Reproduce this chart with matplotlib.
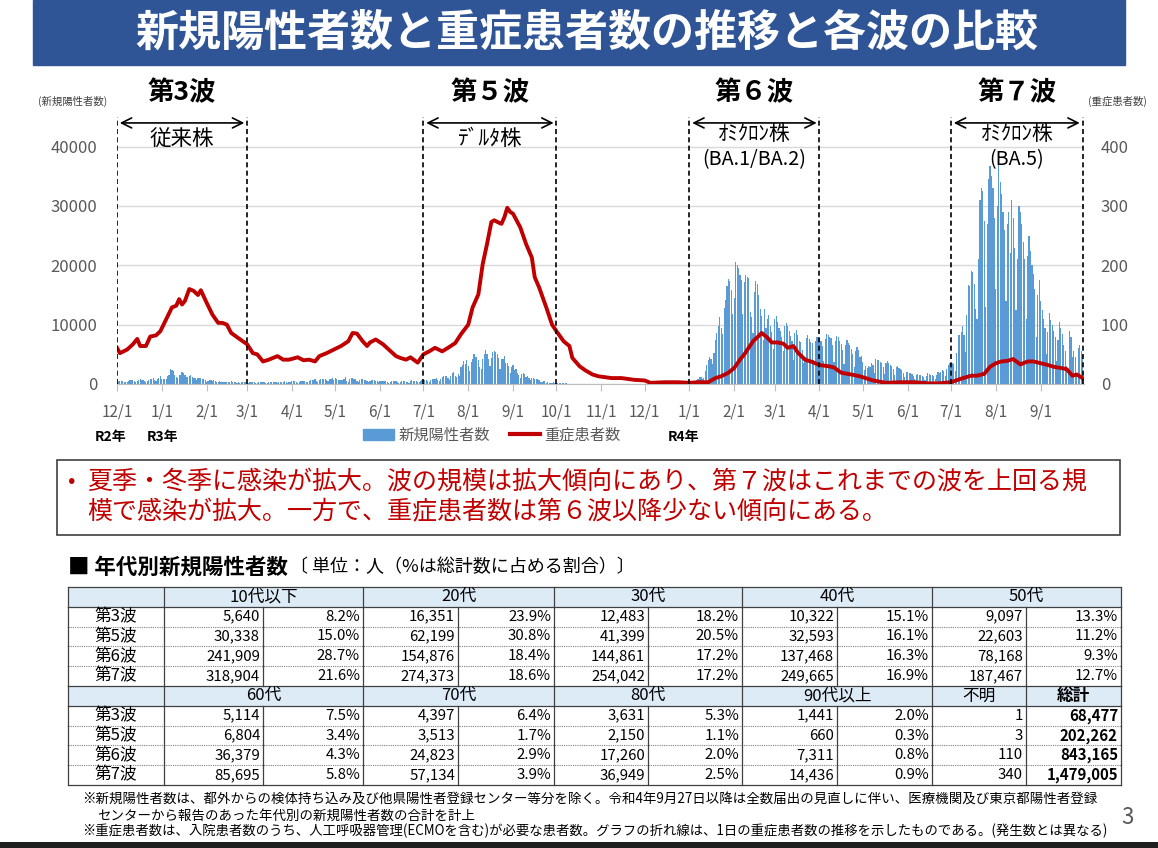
import pandas as pd
import matplotlib.pyplot as plt
from matplotlib.patches import Rectangle, Patch
from matplotlib.lines import Line2D

plt.rcParams['font.family'] = ['Noto Sans CJK JP', 'DejaVu Sans']

# daily new positive cases, one list per month
cases_2020_12 = [372, 500, 533, 449, 584, 327, 299, 352, 572, 602, 595, 621, 480, 305, 460, 678,
                 822, 664, 736, 556, 392, 563, 748, 888, 884, 949, 708, 481, 856, 944, 1337]
cases_2021_01 = [783, 814, 816, 884, 1278, 1591, 2447, 2392, 2268, 1494, 1219, 970, 1433, 1502, 2044, 1809,
                 1592, 1204, 1240, 1274, 1471, 1175, 1070, 986, 618, 1026, 973, 1064, 868, 769, 633]
cases_2021_02 = [393, 556, 676, 734, 577, 639, 429, 276, 412, 434, 307, 352, 369, 371, 266, 378,
                 378, 445, 353, 327, 272, 178, 275, 213, 340, 270, 337, 329]
cases_2021_03 = [121, 232, 316, 279, 301, 293, 237, 116, 290, 340, 335, 304, 320, 239, 175, 300,
                 409, 323, 303, 342, 256, 187, 337, 420, 394, 376, 430, 313, 234, 364, 414]
cases_2021_04 = [475, 440, 446, 355, 249, 399, 555, 545, 537, 570, 421, 306, 510, 591, 729, 667,
                 759, 543, 405, 711, 843, 861, 759, 876, 635, 425, 828, 925, 1027, 698]
cases_2021_05 = [1050, 879, 708, 609, 621, 591, 907, 1121, 573, 419, 925, 969, 1010, 854, 772, 542,
                 419, 732, 766, 843, 614, 620, 535, 340, 539, 743, 684, 614, 539, 479, 260]
cases_2021_06 = [471, 487, 508, 472, 436, 351, 235, 369, 440, 439, 435, 467, 304, 209, 337, 501,
                 452, 453, 388, 376, 236, 435, 619, 570, 562, 534, 386, 317, 476, 714]
cases_2021_07 = [673, 660, 716, 518, 342, 593, 920, 896, 822, 950, 614, 502, 830, 1149, 1308, 1271,
                 1410, 1008, 727, 1387, 1832, 1979, 1359, 1128, 1763, 1429, 2848, 3177, 3865, 3300, 4058]
cases_2021_08 = [3058, 2195, 3709, 4166, 5042, 4515, 4566, 4066, 2884, 2612, 4200, 4989, 5773, 5094, 4295, 2962,
                 4377, 5386, 5534, 5405, 5074, 4392, 2447, 4220, 4228, 4704, 3581, 3581, 3081, 1915, 2909]
cases_2021_09 = [3168, 2362, 2539, 1853, 1490, 968, 1629, 1834, 1675, 1242, 1273, 1067, 611, 1004, 1052, 831,
                 782, 862, 624, 302, 253, 537, 531, 235, 382, 241, 154, 248, 267, 218]
cases_2021_10 = [200, 196, 161, 87, 149, 144, 143, 138, 82, 60, 49, 77, 72, 62, 65, 66,
                 40, 29, 36, 41, 36, 26, 32, 19, 17, 29, 36, 21, 22, 21, 9]
cases_2021_11 = [9, 29, 23, 17, 21, 25, 18, 6, 18, 28, 19, 26, 25, 22, 15, 25,
                 22, 19, 21, 23, 14, 8, 11, 21, 24, 10, 17, 13, 7, 11]
cases_2021_12 = [15, 11, 19, 19, 15, 7, 16, 21, 14, 16, 15, 8, 9, 19, 21, 21,
                 26, 30, 19, 12, 31, 27, 37, 41, 46, 37, 34, 42, 76, 64, 78]
cases_2022_01 = [79, 84, 103, 151, 390, 641, 922, 1224, 1223, 871, 962, 2198, 3124, 4051, 4561, 4172,
                 3426, 5185, 7377, 8638, 9699, 11227, 9468, 8503, 12813, 14086, 16538, 17631, 17433, 15895, 11751]
cases_2022_02 = [14445, 20500, 20100, 19500, 18300, 17526, 11807, 17113, 18287, 18100, 17864, 12213, 11355, 8512, 15526, 17400,
                 16900, 14982, 12691, 11445, 7475, 12691, 9361, 10925, 11595, 9731, 8813, 5864]
cases_2022_03 = [11000, 11500, 10500, 9500, 9000, 8000, 5500, 9800, 10200, 9700, 8900, 8100, 7200, 4100, 8600, 9100,
                 8200, 7300, 7000, 5700, 3500, 4500, 7800, 8200, 7600, 7100, 6900, 4000, 7300, 8000, 7900]
cases_2022_04 = [7700, 7200, 6400, 3900, 7600, 8400, 8200, 7900, 7700, 6600, 3700, 7300, 8100, 7900, 7300, 6800,
                 5800, 3300, 6600, 7400, 6900, 6500, 5900, 5100, 2800, 5600, 6200, 5800, 4600, 4800]
cases_2022_05 = [3700, 2300, 3000, 2700, 3100, 2800, 3600, 3200, 1800, 4200, 4000, 4100, 3700, 3500, 2800, 1700,
                 3600, 3800, 3600, 3200, 3100, 2600, 1500, 2800, 3000, 2700, 2500, 2300, 1900, 1100, 2000]
cases_2022_06 = [2000, 1900, 1800, 1700, 1400, 800, 1600, 1700, 1600, 1500, 1400, 1100, 700, 1400, 1800, 1700,
                 1600, 1500, 1300, 900, 1500, 2100, 1900, 2000, 2400, 2200, 1300, 2500, 3200, 3500]
cases_2022_07 = [3500, 3600, 3400, 2200, 5300, 8300, 8300, 8800, 9700, 8200, 5400, 11700, 16700, 16600, 19000, 18900,
                 16900, 12700, 11000, 21000, 31000, 33000, 32500, 27500, 13000, 27000, 34500, 36800, 35000, 33000, 28000]
cases_2022_08 = [16000, 30000, 37000, 34000, 32000, 29000, 26000, 14000, 27000, 29000, 22000, 31000, 28000, 23000, 12500, 21000,
                 30000, 29000, 27000, 24000, 21000, 11000, 21500, 25000, 22500, 20000, 18500, 16000, 8000, 15000, 17500]
cases_2022_09 = [14000, 12500, 11000, 9500, 5000, 8700, 12000, 10800, 10000, 9000, 8000, 3800, 7500, 10500, 9500, 8500,
                 6500, 5500, 3000, 2500, 9000, 8000, 4500, 5500, 4500, 1500, 6000, 6500, 5500, 5000]

month_starts = pd.date_range("2020-12-01", "2022-09-01", freq="MS")
month_cases = [cases_2020_12, cases_2021_01, cases_2021_02, cases_2021_03, cases_2021_04, cases_2021_05,
               cases_2021_06, cases_2021_07, cases_2021_08, cases_2021_09, cases_2021_10, cases_2021_11,
               cases_2021_12, cases_2022_01, cases_2022_02, cases_2022_03, cases_2022_04, cases_2022_05,
               cases_2022_06, cases_2022_07, cases_2022_08, cases_2022_09]

# severe patients
severe_dates = ["2020-12-01", "2020-12-03", "2020-12-08", "2020-12-12", "2020-12-15", "2020-12-17", "2020-12-21",
                "2020-12-24", "2020-12-28", "2020-12-31", "2021-01-04", "2021-01-08", "2021-01-11", "2021-01-13",
                "2021-01-15", "2021-01-17", "2021-01-20", "2021-01-23", "2021-01-26", "2021-01-28", "2021-02-01",
                "2021-02-05", "2021-02-09", "2021-02-12", "2021-02-15", "2021-02-18", "2021-02-22", "2021-02-26",
                "2021-03-01", "2021-03-05", "2021-03-08", "2021-03-12", "2021-03-16", "2021-03-22", "2021-03-26",
                "2021-03-30", "2021-04-05", "2021-04-09", "2021-04-13", "2021-04-17", "2021-04-20", "2021-04-25",
                "2021-04-30", "2021-05-05", "2021-05-10", "2021-05-13", "2021-05-16", "2021-05-20", "2021-05-23",
                "2021-05-25", "2021-05-29", "2021-06-03", "2021-06-07", "2021-06-12", "2021-06-15", "2021-06-19",
                "2021-06-22", "2021-06-27", "2021-07-01", "2021-07-05", "2021-07-09", "2021-07-14", "2021-07-18",
                "2021-07-23", "2021-07-27", "2021-08-01", "2021-08-04", "2021-08-08", "2021-08-11", "2021-08-14",
                "2021-08-17", "2021-08-19", "2021-08-22", "2021-08-24", "2021-08-26", "2021-08-28", "2021-08-30",
                "2021-09-01", "2021-09-06", "2021-09-10", "2021-09-14", "2021-09-16", "2021-09-19", "2021-09-24",
                "2021-09-28", "2021-10-01", "2021-10-06", "2021-10-10", "2021-10-12", "2021-10-17", "2021-10-21",
                "2021-10-26", "2021-10-30", "2021-11-08", "2021-11-15", "2021-11-24", "2021-12-01", "2021-12-05",
                "2021-12-15", "2021-12-24", "2022-01-01", "2022-01-07", "2022-01-14", "2022-01-19", "2022-01-23",
                "2022-01-28", "2022-02-01", "2022-02-05", "2022-02-08", "2022-02-11", "2022-02-14", "2022-02-18",
                "2022-02-20", "2022-02-24", "2022-02-27", "2022-03-03", "2022-03-07", "2022-03-10", "2022-03-14",
                "2022-03-17", "2022-03-22", "2022-03-26", "2022-04-01", "2022-04-07", "2022-04-11", "2022-04-16",
                "2022-04-23", "2022-04-29", "2022-05-08", "2022-05-17", "2022-05-27", "2022-06-06", "2022-06-15",
                "2022-06-22", "2022-07-01", "2022-07-08", "2022-07-15", "2022-07-19", "2022-07-24", "2022-07-28",
                "2022-08-01", "2022-08-05", "2022-08-09", "2022-08-13", "2022-08-18", "2022-08-23", "2022-08-27",
                "2022-09-01", "2022-09-06", "2022-09-10", "2022-09-15", "2022-09-19", "2022-09-23", "2022-09-26",
                "2022-09-30"]
severe_vals = [61, 52, 58, 67, 76, 64, 64, 80, 82, 89, 109, 129, 132, 143, 134, 140, 160, 157, 150, 158, 137,
               117, 103, 103, 100, 86, 79, 72, 67, 52, 50, 38, 41, 47, 41, 41, 45, 40, 41, 38, 47, 52, 58,
               64, 72, 86, 85, 72, 64, 70, 75, 67, 58, 47, 44, 41, 45, 36, 50, 55, 61, 55, 61, 69, 84,
               100, 129, 151, 202, 236, 273, 276, 272, 270, 281, 297, 290, 287, 264, 236, 213, 180, 163, 129,
               100, 89, 72, 64, 44, 30, 23, 16, 13, 10, 10, 7, 6, 2, 3, 3, 2, 3, 3, 10, 13,
               19, 27, 41, 50, 61, 72, 81, 86, 78, 70, 70, 68, 61, 64, 53, 41, 38, 32, 30, 28, 19,
               16, 13, 6, 2, 3, 3, 1, 1, 3, 9, 14, 14, 17, 29, 35, 38, 39, 42, 33, 38, 38,
               35, 32, 29, 27, 25, 14, 16, 10]

# wave periods
wave_names = ["第3波", "第５波", "第６波", "第７波"]
wave_start = ["2020-12-01", "2021-07-01", "2022-01-01", "2022-07-01"]
wave_end = ["2021-03-01", "2021-10-01", "2022-04-01", "2022-09-30"]
wave_strain = ["従来株", "ﾃﾞﾙﾀ株", "ｵﾐｸﾛﾝ株", "ｵﾐｸﾛﾝ株"]
wave_sub = ["", "", "(BA.1/BA.2)", "(BA.5)"]

# table by age group
table_waves = ["第3波", "第5波", "第6波", "第7波"]
ages_top = ["10代以下", "20代", "30代", "40代", "50代"]
ages_bottom = ["60代", "70代", "80代", "90代以上"]
cnt_10 = [5640, 30338, 241909, 318904]
pct_10 = [8.2, 15.0, 28.7, 21.6]
cnt_20 = [16351, 62199, 154876, 274373]
pct_20 = [23.9, 30.8, 18.4, 18.6]
cnt_30 = [12483, 41399, 144861, 254042]
pct_30 = [18.2, 20.5, 17.2, 17.2]
cnt_40 = [10322, 32593, 137468, 249665]
pct_40 = [15.1, 16.1, 16.3, 16.9]
cnt_50 = [9097, 22603, 78168, 187467]
pct_50 = [13.3, 11.2, 9.3, 12.7]
cnt_60 = [5114, 6804, 36379, 85695]
pct_60 = [7.5, 3.4, 4.3, 5.8]
cnt_70 = [4397, 3513, 24823, 57134]
pct_70 = [6.4, 1.7, 2.9, 3.9]
cnt_80 = [3631, 2150, 17260, 36949]
pct_80 = [5.3, 1.1, 2.0, 2.5]
cnt_90 = [1441, 660, 7311, 14436]
pct_90 = [2.0, 0.3, 0.8, 0.9]
cnt_unknown = [1, 3, 110, 340]
cnt_total = [68477, 202262, 843165, 1479005]

BLUE = '#5B9BD5'
RED = '#C00000'
GRAY = '#595959'

fig = plt.figure(figsize=(11.58, 8.48), dpi=100)

# page layer in pixel coords
pg = fig.add_axes([0, 0, 1, 1])
pg.set_xlim(0, 1158)
pg.set_ylim(848, 0)
pg.axis('off')

pg.add_patch(Rectangle((33, 0), 1092, 65, color='#2F5597'))
pg.text(587, 33, "新規陽性者数と重症患者数の推移と各波の比較", color='white', fontsize=31,
        fontweight='bold', ha='center', va='center')

# chart
ax = fig.add_axes([117/1158, 1-384/848, 967/1158, 267/848])
ax.patch.set_alpha(0)
for cases, ms in zip(month_cases, month_starts):
    days = pd.date_range(ms, periods=len(cases), freq="D")
    ax.bar(days, cases, width=0.8, color=BLUE, linewidth=0)
ax.set_ylim(0, 45000)
ax.set_yticks([0, 10000, 20000, 30000, 40000])
ax.yaxis.grid(True, color='#D9D9D9', lw=1)
ax.set_axisbelow(True)
for s in ['top', 'left', 'right']:
    ax.spines[s].set_visible(False)
ax.spines['bottom'].set_color('#BFBFBF')
ax.tick_params(axis='y', length=0, pad=14, labelsize=12, labelcolor=GRAY)
ticks = pd.date_range("2020-12-01", "2022-09-01", freq="MS")
ax.set_xticks(ticks)
ax.set_xticklabels([f"{d.month}/1" for d in ticks])
ax.tick_params(axis='x', length=5, color='#BFBFBF', pad=9, labelsize=11, labelcolor=GRAY)
ax.set_xlim(pd.Timestamp("2020-12-01"), pd.Timestamp("2022-10-01"))

ax2 = ax.twinx()
ax2.plot(pd.to_datetime(severe_dates), severe_vals, color=RED, lw=2.8, solid_joinstyle='round')
ax2.set_ylim(0, 450)
ax2.set_yticks([0, 100, 200, 300, 400])
for s in ax2.spines.values():
    s.set_visible(False)
ax2.tick_params(axis='y', length=0, pad=12, labelsize=12, labelcolor=GRAY)

for name, s, e, strain, sub in zip(wave_names, wave_start, wave_end, wave_strain, wave_sub):
    s, e = pd.Timestamp(s), pd.Timestamp(e)
    mid = s + (e - s) / 2
    for d in (s, e):
        ax2.axvline(d, color='black', lw=1.2, ls=(0, (3, 2)), zorder=5)
    ax2.annotate('', xy=(e, 440), xytext=(s, 440),
                 arrowprops=dict(arrowstyle='<->', color='black', lw=1.2, mutation_scale=18))
    ax2.text(mid, 1.09, name, transform=ax2.get_xaxis_transform(), fontsize=19, fontweight='bold',
             ha='center', va='center', clip_on=False)
    if sub:
        ax2.text(mid, 421, strain, fontsize=15, ha='center', va='center')
        ax2.text(mid, 379, sub, fontsize=14.2, ha='center', va='center')
    else:
        ax2.text(mid, 413, strain, fontsize=15.5, ha='center', va='center')

pg.text(73, 101, "(新規陽性者数)", fontsize=7.5, color='#404040', ha='center', va='center')
pg.text(1117, 101, "(重症患者数)", fontsize=7.5, color='#404040', ha='center', va='center')
pg.text(95, 437, "R2年", fontsize=10, fontweight='bold', ha='left', va='center')
pg.text(147, 437, "R3年", fontsize=10, fontweight='bold', ha='left', va='center')
pg.text(668, 437, "R4年", fontsize=10, fontweight='bold', ha='left', va='center')

handles = [Patch(color=BLUE), Line2D([], [], color=RED, lw=3)]
leg = fig.legend(handles, ["新規陽性者数", "重症患者数"], loc='center', bbox_to_anchor=(492/1158, 1-435/848),
                 ncol=2, frameon=False, fontsize=11, handlelength=2.0, handletextpad=0.3, columnspacing=1.3)
for t in leg.get_texts():
    t.set_color(GRAY)

# message box
pg.add_patch(Rectangle((57, 460), 1063, 75, fill=False, edgecolor='#404040', lw=1.2))
pg.text(72, 482, "•", color=RED, fontsize=16, ha='center', va='center')
pg.text(87, 482, "夏季・冬季に感染が拡大。波の規模は拡大傾向にあり、第７波はこれまでの波を上回る規",
        color=RED, fontsize=18, ha='left', va='center')
pg.text(87, 512, "模で感染が拡大。一方で、重症患者数は第６波以降少ない傾向にある。",
        color=RED, fontsize=18, ha='left', va='center')

# table
pg.text(68, 567, "■ 年代別新規陽性者数", fontsize=15.5, fontweight='bold', ha='left', va='center')
pg.text(290, 567, "〔 単位：人（%は総計数に占める割合）〕", fontsize=13, ha='left', va='center')

col_x = [68, 164, 263, 363, 458, 554, 648, 742, 837, 932, 1026, 1121]
top, rh = 587, 19.8
row_y = [top + i * rh for i in range(11)]
LC = '#404040'
for hr in (0, 5):
    pg.add_patch(Rectangle((col_x[0], row_y[hr]), col_x[-1] - col_x[0], rh, color='#DDEBF7', lw=0))
for i, y in enumerate(row_y):
    if i in (0, 1, 5, 6, 10):
        pg.plot([col_x[0], col_x[-1]], [y, y], color=LC, lw=0.9)
    else:
        pg.plot([col_x[0], col_x[-1]], [y, y], color='#808080', lw=0.8, ls=(0, (1, 1)))
group_x = [68, 164, 363, 554, 742, 932, 1121]
for hr in (0, 5):
    xs = group_x + ([1026] if hr == 5 else [])
    for x in xs:
        pg.plot([x, x], [row_y[hr], row_y[hr + 1]], color=LC, lw=0.9)
    for r in range(hr + 1, hr + 5):
        for x in col_x:
            pg.plot([x, x], [row_y[r], row_y[r + 1]], color=LC, lw=0.9)

FS = 10.8
FJ = 12
for g, name in enumerate(ages_top):
    pg.text((group_x[g + 1] + group_x[g + 2]) / 2, row_y[0] + rh / 2, name, fontsize=FJ, ha='center', va='center')
for g, name in enumerate(ages_bottom):
    pg.text((group_x[g + 1] + group_x[g + 2]) / 2, row_y[5] + rh / 2, name, fontsize=FJ, ha='center', va='center')
pg.text((932 + 1026) / 2, row_y[5] + rh / 2, "不明", fontsize=FJ, ha='center', va='center')
pg.text((1026 + 1121) / 2, row_y[5] + rh / 2, "総計", fontsize=FJ, fontweight='bold', ha='center', va='center')

top_block = [(cnt_10, pct_10), (cnt_20, pct_20), (cnt_30, pct_30), (cnt_40, pct_40), (cnt_50, pct_50)]
bottom_block = [(cnt_60, pct_60), (cnt_70, pct_70), (cnt_80, pct_80), (cnt_90, pct_90)]
for base, block in ((1, top_block), (6, bottom_block)):
    for w, wname in enumerate(table_waves):
        yc = row_y[base + w] + rh / 2
        pg.text(116, yc, wname, fontsize=FJ, ha='center', va='center')
        for g, (cnt, pct) in enumerate(block):
            pg.text(col_x[1 + 2 * g + 1] - 3, yc, f"{cnt[w]:,}", fontsize=FS, ha='right', va='center')
            pg.text(col_x[1 + 2 * g + 2] - 3, yc, f"{pct[w]:.1f}%", fontsize=FS, ha='right', va='center')
        if base == 6:
            pg.text(1026 - 3, yc, f"{cnt_unknown[w]:,}", fontsize=FS, ha='right', va='center')
            pg.text(1121 - 3, yc, f"{cnt_total[w]:,}", fontsize=FS, fontweight='bold', ha='right', va='center')

# footnotes
pg.text(82, 800, "※新規陽性者数は、都外からの検体持ち込み及び他県陽性者登録センター等分を除く。令和4年9月27日以降は全数届出の見直しに伴い、医療機関及び東京都陽性者登録",
        fontsize=9.7, ha='left', va='center')
pg.text(97, 816, "センターから報告のあった年代別の新規陽性者数の合計を計上", fontsize=9.7, ha='left', va='center')
pg.text(82, 831, "※重症患者数は、入院患者数のうち、人工呼吸器管理(ECMOを含む)が必要な患者数。グラフの折れ線は、1日の重症患者数の推移を示したものである。(発生数とは異なる)",
        fontsize=9.6, ha='left', va='center')
pg.text(1128, 818, "3", fontsize=16, color=GRAY, ha='center', va='center')
pg.add_patch(Rectangle((0, 842), 1158, 6, color='#202020', lw=0))

fig.savefig("out.png", dpi=100)
